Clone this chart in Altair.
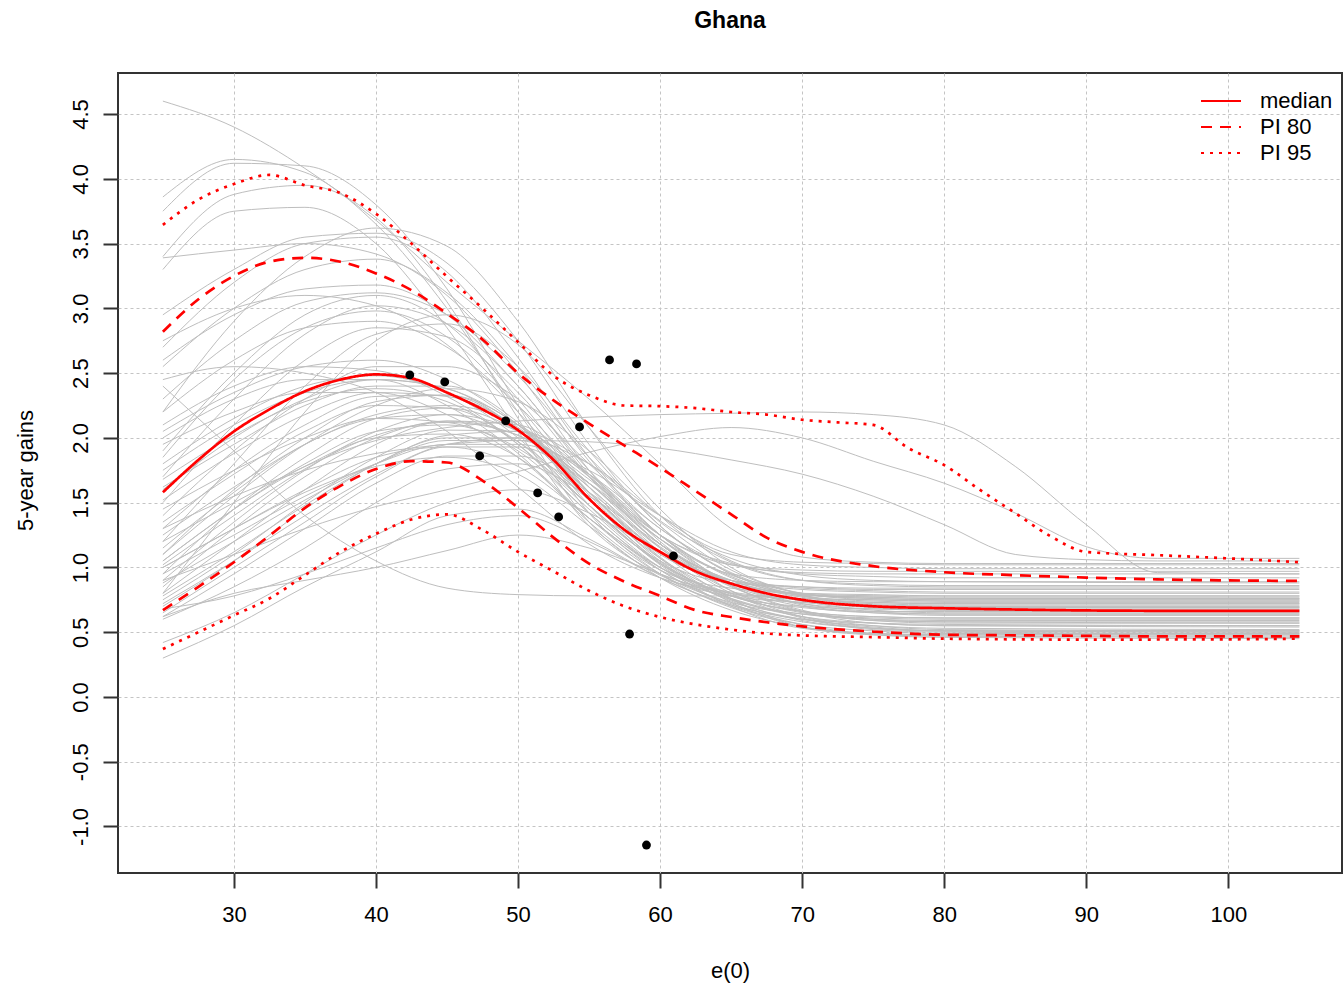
import altair as alt
import pandas as pd

# ---------------- data ----------------
TITLE = "Ghana"
X_TICKS = [30, 40, 50, 60, 70, 80, 90, 100]
Y_TICKS = [-1.0, -0.5, 0.0, 0.5, 1.0, 1.5, 2.0, 2.5, 3.0, 3.5, 4.0, 4.5]

# grid of e(0) values at which the grey trajectories were read
GRID = [25, 30, 35, 40, 45, 50, 55, 60, 65, 70, 75, 80, 105]
GRID_LATE = [25, 30, 35, 40, 45, 50, 55, 60, 65, 70, 75, 80, 85, 90, 95, 105]

GRAY_HIGH = [
    [4.60, 4.40, 4.08, 3.68, 3.20, 2.75, 2.30, 1.80, 1.30, 1.08, 1.04, 1.03, 1.03],
    [3.86, 4.15, 4.05, 3.65, 3.00, 2.20, 1.48, 1.05, 0.88, 0.85, 0.84, 0.84, 0.84],
    [3.75, 4.12, 4.10, 3.80, 3.15, 2.25, 1.42, 0.98, 0.84, 0.80, 0.79, 0.78, 0.78],
    [3.40, 3.88, 3.95, 3.70, 3.05, 2.15, 1.35, 0.94, 0.78, 0.73, 0.71, 0.70, 0.70],
    [3.30, 3.75, 3.78, 3.50, 2.85, 2.05, 1.32, 0.95, 0.81, 0.76, 0.75, 0.74, 0.74],
]
GRAY_UPPER = [
    [3.39, 3.45, 3.50, 3.42, 3.10, 2.50, 1.75, 1.18, 0.90, 0.78, 0.74, 0.73, 0.73],
    [2.95, 3.30, 3.55, 3.58, 3.35, 2.75, 1.95, 1.32, 0.96, 0.80, 0.76, 0.75, 0.75],
    [2.70, 3.20, 3.50, 3.55, 3.28, 2.62, 1.85, 1.25, 0.93, 0.79, 0.77, 0.76, 0.76],
    [2.55, 3.00, 3.30, 3.38, 3.12, 2.55, 1.82, 1.25, 0.94, 0.84, 0.82, 0.81, 0.81],
    [2.20, 2.90, 3.40, 3.62, 3.48, 2.90, 2.08, 1.40, 1.04, 0.90, 0.87, 0.86, 0.86],
    [2.30, 2.75, 3.05, 3.12, 2.95, 2.48, 1.85, 1.36, 1.07, 0.94, 0.90, 0.89, 0.88],
    [2.75, 3.00, 3.10, 3.02, 2.72, 2.20, 1.58, 1.12, 0.90, 0.83, 0.81, 0.80, 0.80],
    [2.60, 2.95, 3.15, 3.18, 2.95, 2.40, 1.75, 1.25, 1.03, 0.95, 0.93, 0.92, 0.92],
    [1.90, 2.50, 2.95, 3.10, 2.88, 2.30, 1.62, 1.12, 0.88, 0.79, 0.77, 0.76, 0.76],
    [1.70, 2.30, 2.80, 3.02, 2.88, 2.40, 1.72, 1.18, 0.90, 0.77, 0.72, 0.71, 0.71],
    [1.85, 2.45, 2.85, 2.98, 2.78, 2.25, 1.58, 1.10, 0.90, 0.85, 0.83, 0.83, 0.83],
    [1.50, 2.10, 2.60, 2.85, 2.78, 2.35, 1.70, 1.18, 0.88, 0.74, 0.69, 0.67, 0.67],
    [1.20, 1.80, 2.40, 2.80, 2.88, 2.55, 1.90, 1.32, 0.95, 0.78, 0.71, 0.69, 0.69],
    [0.80, 1.50, 2.20, 2.75, 2.95, 2.72, 2.08, 1.45, 1.00, 0.79, 0.71, 0.70, 0.70],
    [2.40, 1.90, 1.40, 1.05, 0.84, 0.79, 0.78, 0.78, 0.78, 0.78, 0.78, 0.78, 0.78],
]
GRAY_MIDDLE = [
    [2.45, 2.55, 2.50, 2.35, 2.05, 1.62, 1.18, 0.92, 0.80, 0.75, 0.73, 0.72, 0.72],
    [2.10, 2.40, 2.55, 2.52, 2.32, 1.95, 1.42, 1.00, 0.78, 0.69, 0.66, 0.66, 0.66],
    [2.00, 2.30, 2.45, 2.45, 2.25, 1.88, 1.35, 0.95, 0.73, 0.64, 0.61, 0.60, 0.60],
    [1.95, 2.20, 2.35, 2.35, 2.18, 1.85, 1.38, 1.00, 0.80, 0.73, 0.70, 0.69, 0.69],
    [1.80, 2.15, 2.40, 2.48, 2.35, 2.00, 1.48, 1.03, 0.78, 0.70, 0.68, 0.68, 0.68],
    [1.60, 2.00, 2.30, 2.45, 2.38, 2.06, 1.52, 1.04, 0.78, 0.66, 0.62, 0.61, 0.61],
    [1.68, 2.02, 2.28, 2.38, 2.28, 1.95, 1.45, 1.00, 0.75, 0.64, 0.60, 0.59, 0.59],
    [1.62, 1.95, 2.25, 2.40, 2.40, 2.12, 1.56, 1.05, 0.76, 0.62, 0.57, 0.55, 0.55],
    [1.30, 1.75, 2.10, 2.32, 2.33, 2.06, 1.52, 1.03, 0.74, 0.60, 0.55, 0.53, 0.52],
    [1.35, 1.72, 2.05, 2.25, 2.23, 1.97, 1.48, 1.03, 0.78, 0.66, 0.62, 0.61, 0.61],
    [1.15, 1.58, 1.95, 2.15, 2.18, 1.97, 1.52, 1.07, 0.79, 0.65, 0.59, 0.57, 0.57],
    [1.10, 1.60, 2.00, 2.28, 2.33, 2.10, 1.58, 1.08, 0.75, 0.59, 0.53, 0.51, 0.50],
    [1.05, 1.45, 1.80, 2.05, 2.10, 1.92, 1.48, 1.02, 0.70, 0.53, 0.49, 0.48, 0.48],
    [1.00, 1.30, 1.60, 1.85, 1.93, 1.78, 1.38, 0.98, 0.72, 0.60, 0.57, 0.56, 0.55],
    [1.45, 1.75, 2.00, 2.15, 2.12, 1.90, 1.42, 0.98, 0.71, 0.58, 0.53, 0.51, 0.51],
]
GRAY_LOWER = [
    [0.95, 1.45, 1.85, 2.15, 2.23, 2.05, 1.58, 1.07, 0.73, 0.54, 0.49, 0.47, 0.47],
    [0.90, 1.35, 1.75, 2.05, 2.18, 2.05, 1.65, 1.15, 0.80, 0.61, 0.52, 0.50, 0.49],
    [0.85, 1.30, 1.70, 2.00, 2.13, 2.02, 1.62, 1.12, 0.76, 0.54, 0.48, 0.47, 0.46],
    [0.80, 1.20, 1.60, 1.95, 2.13, 2.10, 1.72, 1.20, 0.82, 0.62, 0.53, 0.51, 0.51],
    [0.75, 1.10, 1.50, 1.85, 2.06, 2.05, 1.72, 1.25, 0.86, 0.66, 0.57, 0.55, 0.54],
    [0.70, 1.05, 1.45, 1.80, 2.00, 2.00, 1.68, 1.22, 0.86, 0.67, 0.59, 0.58, 0.57],
    [0.65, 1.00, 1.35, 1.70, 1.93, 1.93, 1.65, 1.22, 0.88, 0.71, 0.65, 0.63, 0.63],
    [0.62, 0.95, 1.30, 1.65, 1.86, 1.86, 1.58, 1.15, 0.82, 0.66, 0.60, 0.58, 0.58],
    [0.60, 0.85, 1.15, 1.50, 1.76, 1.80, 1.55, 1.18, 0.88, 0.72, 0.66, 0.64, 0.64],
    [0.42, 0.65, 0.95, 1.25, 1.50, 1.60, 1.42, 1.12, 0.88, 0.74, 0.67, 0.65, 0.65],
    [0.30, 0.55, 0.85, 1.12, 1.40, 1.45, 1.22, 0.92, 0.70, 0.56, 0.48, 0.46, 0.45],
    [0.62, 0.80, 0.90, 1.00, 1.13, 1.25, 1.15, 0.95, 0.76, 0.62, 0.55, 0.52, 0.51],
    [1.00, 1.30, 1.58, 1.78, 1.85, 1.72, 1.32, 0.92, 0.67, 0.54, 0.49, 0.48, 0.48],
    [1.05, 1.45, 1.78, 2.00, 2.03, 1.85, 1.38, 0.95, 0.69, 0.56, 0.51, 0.49, 0.49],
    [0.68, 0.78, 0.95, 1.15, 1.33, 1.40, 1.20, 0.92, 0.71, 0.60, 0.54, 0.51, 0.50],
]
GRAY_EXTRA = [
    [1.40, 1.90, 2.30, 2.55, 2.55, 2.30, 1.80, 1.30, 1.02, 0.96, 0.95, 0.95, 0.95],
    [1.10, 1.55, 1.95, 2.25, 2.38, 2.28, 1.90, 1.40, 1.10, 1.04, 1.03, 1.02, 1.02],
    [0.95, 1.25, 1.55, 1.80, 1.95, 1.95, 1.75, 1.40, 1.12, 1.02, 1.00, 0.99, 0.99],
    [2.20, 2.60, 2.85, 2.90, 2.70, 2.25, 1.70, 1.25, 1.02, 0.98, 0.97, 0.97, 0.97],
    [1.75, 2.10, 2.35, 2.45, 2.38, 2.10, 1.65, 1.22, 0.95, 0.90, 0.89, 0.89, 0.89],
    [0.72, 1.05, 1.40, 1.72, 1.95, 2.00, 1.80, 1.40, 1.05, 0.90, 0.86, 0.85, 0.85],
    [1.25, 1.62, 1.95, 2.18, 2.25, 2.10, 1.70, 1.25, 0.92, 0.79, 0.76, 0.75, 0.75],
    [0.88, 1.20, 1.52, 1.80, 1.98, 1.98, 1.72, 1.30, 0.95, 0.78, 0.73, 0.72, 0.72],
    [1.52, 1.88, 2.18, 2.35, 2.32, 2.08, 1.62, 1.16, 0.86, 0.72, 0.68, 0.67, 0.67],
    [0.78, 1.12, 1.48, 1.80, 2.02, 2.05, 1.80, 1.35, 0.98, 0.80, 0.75, 0.74, 0.74],
    [1.02, 1.40, 1.76, 2.02, 2.12, 2.02, 1.65, 1.18, 0.85, 0.70, 0.65, 0.64, 0.64],
    [2.05, 2.35, 2.55, 2.60, 2.45, 2.10, 1.58, 1.12, 0.88, 0.80, 0.78, 0.77, 0.77],
]
GRAY_LATE = [
    [1.20, 1.50, 1.78, 1.98, 2.08, 2.13, 2.16, 2.18, 2.19, 2.20, 2.18, 2.10, 1.78, 1.33, 0.96, 0.95],
    [0.90, 1.10, 1.30, 1.47, 1.60, 1.74, 1.89, 2.01, 2.08, 2.00, 1.82, 1.65, 1.42, 1.16, 1.07, 1.07],
    [1.30, 1.55, 1.75, 1.88, 1.95, 1.98, 1.97, 1.92, 1.83, 1.72, 1.55, 1.33, 1.10, 1.06, 1.05, 1.05],
]

MEDIAN_X = [25, 27.5, 30, 32.5, 35, 37.5, 40, 42.5, 45, 47.5, 50, 52.5, 55, 57.5, 60,
            62.5, 65, 67.5, 70, 75, 80, 85, 90, 95, 100, 105]
MEDIAN_Y = [1.58, 1.83, 2.05, 2.22, 2.36, 2.45, 2.49, 2.46, 2.35, 2.22, 2.06, 1.83, 1.53,
            1.29, 1.12, 0.97, 0.875, 0.80, 0.75, 0.70, 0.685, 0.675, 0.668, 0.665, 0.664, 0.664]

PI80_X = [25, 27.5, 30, 32.5, 35, 37.5, 40, 42.5, 45, 47.5, 50, 52.5, 55, 57.5, 60,
          62.5, 65, 67.5, 70, 75, 80, 85, 90, 95, 100, 105]
PI80_UP = [2.82, 3.07, 3.25, 3.36, 3.39, 3.36, 3.27, 3.14, 2.96, 2.76, 2.50, 2.29, 2.11,
           1.94, 1.77, 1.59, 1.41, 1.23, 1.12, 1.01, 0.963, 0.94, 0.922, 0.908, 0.90, 0.896]
PI80_LOW = [0.67, 0.85, 1.04, 1.245, 1.46, 1.63, 1.76, 1.82, 1.81, 1.67, 1.46, 1.23, 1.03,
            0.89, 0.78, 0.67, 0.617, 0.577, 0.545, 0.505, 0.48, 0.476, 0.472, 0.468, 0.468, 0.468]

PI95_UP_X = [25, 27.5, 30, 32.5, 35, 37.5, 40, 42.5, 45, 47.5, 50, 52.5, 55, 57.5, 60,
             62.5, 65, 67.5, 70, 72.5, 75, 77.5, 80, 82.5, 85, 87.5, 90, 95, 100, 105]
PI95_UP = [3.645, 3.84, 3.96, 4.03, 3.95, 3.89, 3.73, 3.50, 3.245, 3.00, 2.74, 2.48, 2.33,
           2.25, 2.245, 2.23, 2.20, 2.18, 2.14, 2.12, 2.10, 1.92, 1.79, 1.60, 1.42, 1.24,
           1.12, 1.095, 1.07, 1.04]
PI95_LOW_X = [25, 27.5, 30, 32.5, 35, 37.5, 40, 42.5, 45, 47.5, 50, 52.5, 55, 57.5, 60,
              62.5, 65, 67.5, 70, 75, 80, 90, 100, 105]
PI95_LOW = [0.37, 0.50, 0.63, 0.76, 0.94, 1.12, 1.26, 1.37, 1.41, 1.29, 1.12, 0.97, 0.82,
            0.70, 0.617, 0.56, 0.52, 0.49, 0.475, 0.462, 0.45, 0.443, 0.445, 0.45]

OBS_X = [42.38, 44.84, 47.30, 49.13, 51.38, 52.86, 54.33, 56.44, 58.34, 57.85, 59.04, 60.94]
OBS_Y = [2.486, 2.432, 1.861, 2.131, 1.575, 1.39, 2.085, 2.602, 2.571, 0.486, -1.143, 1.089]

# ---------------- tables ----------------
rows = []
cid = 0
for group in (GRAY_HIGH, GRAY_UPPER, GRAY_MIDDLE, GRAY_LOWER, GRAY_EXTRA):
    for curve in group:
        for xv, yv in zip(GRID, curve):
            rows.append({"x": xv, "y": yv, "curve": cid})
        cid += 1
for curve in GRAY_LATE:
    for xv, yv in zip(GRID_LATE, curve):
        rows.append({"x": xv, "y": yv, "curve": cid})
    cid += 1
gray_df = pd.DataFrame(rows)

red_rows = []
for xs, ys, series, line in [
    (MEDIAN_X, MEDIAN_Y, "median", "median"),
    (PI80_X, PI80_UP, "PI 80", "pi80u"),
    (PI80_X, PI80_LOW, "PI 80", "pi80l"),
    (PI95_UP_X, PI95_UP, "PI 95", "pi95u"),
    (PI95_LOW_X, PI95_LOW, "PI 95", "pi95l"),
]:
    for xv, yv in zip(xs, ys):
        red_rows.append({"x": xv, "y": yv, "series": series, "line": line})
red_df = pd.DataFrame(red_rows)

obs_df = pd.DataFrame({"x": OBS_X, "y": OBS_Y})

# ---------------- encodings ----------------
FONT = "Liberation Sans"
x_enc = alt.X(
    "x:Q",
    scale=alt.Scale(domain=[21.84, 108.0], nice=False, zero=False),
    axis=alt.Axis(
        values=X_TICKS, title="e(0)", format="d",
        titleX=612, titleY=97, titleBaseline="middle", titleAlign="center",
    ),
)
y_enc = alt.Y(
    "y:Q",
    scale=alt.Scale(domain=[-1.359, 4.817], nice=False, zero=False),
    axis=alt.Axis(
        values=Y_TICKS, format=".1f", title="5-year gains",
        labelExpr="replace(datum.label, '\u2212', '-')",
        labelAngle=270, labelAlign="center", labelBaseline="alphabetic",
        titleX=-93, titleY=397, titleBaseline="middle", titleAlign="center", titleAngle=270,
    ),
)

gray = alt.Chart(gray_df).mark_line(
    color="#BEBEBE", strokeWidth=1, interpolate="monotone"
).encode(x=x_enc, y=y_enc, detail="curve:N")

red = alt.Chart(red_df).mark_line(
    color="#FF0000", strokeWidth=2.7, interpolate="monotone"
).encode(
    x=x_enc, y=y_enc, detail="line:N",
    strokeDash=alt.StrokeDash(
        "series:N",
        scale=alt.Scale(domain=["median", "PI 80", "PI 95"],
                        range=[[1, 0], [11, 8], [3, 6]]),
        legend=alt.Legend(
            title=None, orient="none", legendX=1082, legendY=16,
            symbolType="stroke", symbolSize=1600, symbolStrokeWidth=2,
            symbolStrokeColor="#FF0000", clipHeight=24, rowPadding=2,
            labelOffset=18, labelFontSize=22, labelFont=FONT, labelColor="black",
            padding=0,
        ),
    ),
)

pts = alt.Chart(obs_df).mark_circle(size=78, color="black", opacity=1).encode(x=x_enc, y=y_enc)

chart = alt.layer(gray, red, pts).properties(
    width=1224, height=800,
    background="white",
    autosize=alt.AutoSizeParams(type="none"),
    padding={"left": 118, "top": 73, "right": 1, "bottom": 110},
    title=alt.TitleParams(
        text=TITLE, fontSize=23, fontWeight="bold", font=FONT, color="black",
        anchor="middle", frame="group", baseline="alphabetic", offset=22,
    ),
).configure_view(
    stroke="#333333", strokeWidth=2
).configure_axis(
    domain=False,
    grid=True, gridColor="#C4C4C4", gridDash=[3, 3], gridWidth=1,
    ticks=True, tickSize=15, tickColor="#333333", tickWidth=2,
    labelFont=FONT, labelFontSize=22, labelColor="black", labelPadding=16,
    titleFont=FONT, titleFontSize=22, titleFontWeight="normal", titleColor="black",
)

chart.save("out.html", embed_options={"renderer": "svg", "actions": False})
